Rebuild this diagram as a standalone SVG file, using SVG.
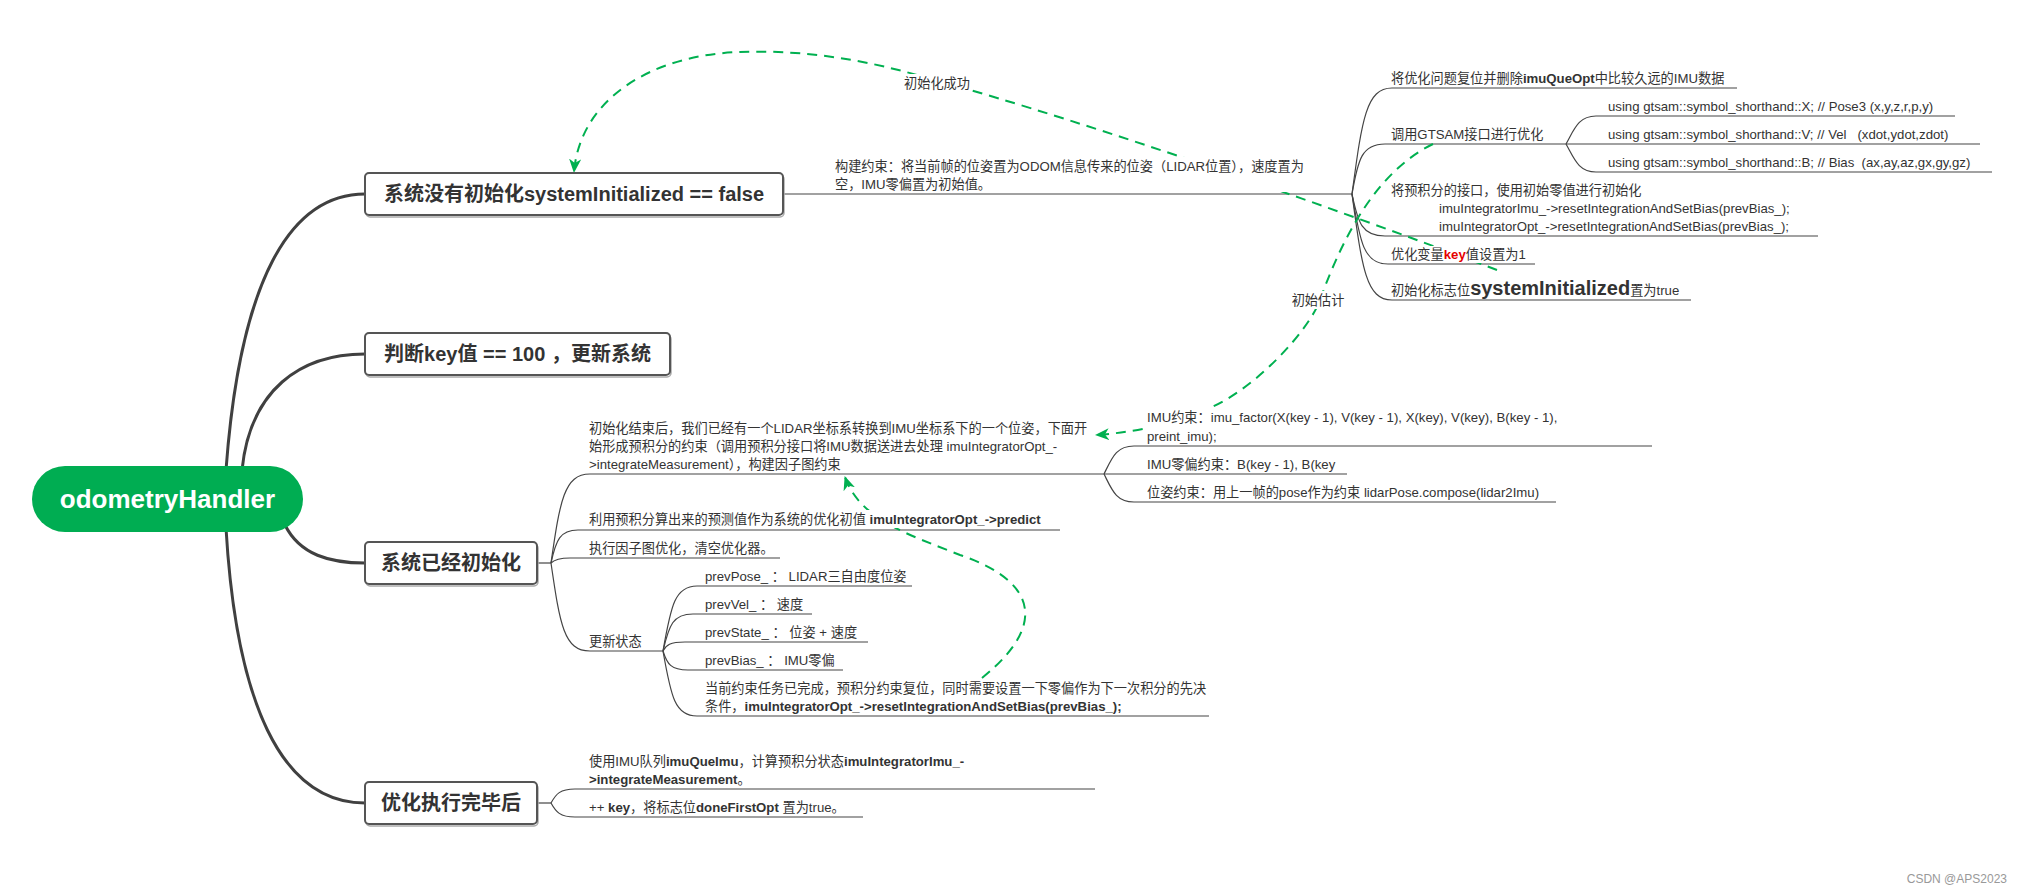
<svg xmlns="http://www.w3.org/2000/svg" width="2022" height="893" viewBox="0 0 2022 893">
<style>
text{font-family:"Liberation Sans","Noto Sans CJK SC",sans-serif;fill:#333;white-space:pre}
.t{font-size:13.2px}
.b{font-weight:bold}
.h{font-size:20px;font-weight:bold;fill:#333}
.ln{fill:none;stroke:#444;stroke-width:1.2}
.main{fill:none;stroke:#404040;stroke-width:3}
.dash{fill:none;stroke:#00b050;stroke-width:2;stroke-dasharray:10 7}
.box{fill:#fff;stroke:#555;stroke-width:2}
.sh{fill:none;stroke:#aaa;stroke-width:1.5}
.bg{fill:#fff}
</style>
<defs>
<marker id="ah" viewBox="0 0 14 12" refX="13" refY="6" markerWidth="14" markerHeight="12" markerUnits="userSpaceOnUse" orient="auto"><path d="M0,0 L14,6 L0,12 L4,6 z" fill="#00b050"/></marker>
</defs>
<rect width="2022" height="893" fill="#fff"/>
<g id="connectors">
<path class="main" d="M226,470 C240,280 290,194 365,194"/>
<path class="main" d="M242,470 C250,390 300,354 365,354"/>
<path class="main" d="M285,525 C300,555 330,563 365,563"/>
<path class="main" d="M226,528 C236,700 280,803 365,803"/>
<path class="ln" d="M783,194 L1352,194"/>
<path class="ln" d="M1352,194 C1362,120 1366,88 1392,88 L1737,88"/>
<path class="ln" d="M1352,194 C1358,159 1362,144 1385,144 L1566,144"/>
<path class="ln" d="M1352,194 C1358,223 1362,236 1385,236 L1818,236"/>
<path class="ln" d="M1352,194 C1360,243 1364,264 1388,264 L1535,264"/>
<path class="ln" d="M1352,194 C1362,268 1366,300 1392,300 L1691,300"/>
<path class="ln" d="M1566,144 C1574,130 1578,116 1596,116 L1955,116"/>
<path class="ln" d="M1566,144 L1980,144"/>
<path class="ln" d="M1566,144 C1574,158 1578,172 1596,172 L1992,172"/>
<path class="ln" d="M537,563 L551,563"/>
<path class="ln" d="M551,563 C560,501 564,474 590,474 L1104,474"/>
<path class="ln" d="M551,563 C556,540 560,530 578,530 L1060,530"/>
<path class="ln" d="M551,563 C554,560 558,558 570,558 L780,558"/>
<path class="ln" d="M551,563 C560,625 564,651 590,651 L663,651"/>
<path class="ln" d="M1104,474 C1112,458 1116,446 1134,446 L1652,446"/>
<path class="ln" d="M1104,474 L1347,474"/>
<path class="ln" d="M1104,474 C1112,490 1116,502 1134,502 L1556,502"/>
<path class="ln" d="M663,651 C671,605 675,586 697,586 L912,586"/>
<path class="ln" d="M663,651 C669,625 673,614 693,614 L812,614"/>
<path class="ln" d="M663,651 C666,645 670,642 685,642 L868,642"/>
<path class="ln" d="M663,651 C667,664 671,670 688,670 L843,670"/>
<path class="ln" d="M663,651 C671,697 675,716 697,716 L1209,716"/>
<path class="ln" d="M537,803 L551,803"/>
<path class="ln" d="M551,803 C556,794 560,789 575,789 L1095,789"/>
<path class="ln" d="M551,803 C556,812 560,817 575,817 L863,817"/>
<path class="dash" marker-end="url(#ah)" d="M1497,270 C1300,195 1050,110 906,72 C846,56 790,50 740,52 C650,55 580,100 574,172"/>
<path class="dash" marker-end="url(#ah)" d="M1433,144 C1380,170 1345,230 1320,300 C1310,328 1260,385 1212,407 C1180,422 1140,432 1096,435"/>
<path class="dash" marker-end="url(#ah)" d="M982,678 C1060,615 1020,575 960,555 C910,535 860,520 845,477"/>
<g id="label-success"><rect class="bg" x="903" y="74" width="68" height="18"/><text class="t" x="937" y="88" text-anchor="middle">初始化成功</text></g>
<g id="label-estimate"><rect class="bg" x="1290" y="291" width="56" height="18"/><text class="t" x="1318" y="305" text-anchor="middle">初始估计</text></g>
</g>
<g id="root">
<rect x="32" y="466" width="271" height="66" rx="33" fill="#00ad52"/>
<text x="167.5" y="508" text-anchor="middle" style="font-size:26px;font-weight:bold;fill:#fff">odometryHandler</text>
</g>
<g id="n-uninit">
<rect class="sh" x="366" y="175" width="418" height="42" rx="4"/>
<rect class="box" x="365" y="173" width="418" height="42" rx="4"/>
<text class="h" x="574" y="201" text-anchor="middle">系统没有初始化systemInitialized == false</text>
</g>
<g id="n-key100">
<rect class="sh" x="366" y="335" width="305" height="42" rx="4"/>
<rect class="box" x="365" y="333" width="305" height="42" rx="4"/>
<text class="h" x="517.5" y="361" text-anchor="middle">判断key值 == 100 ，更新系统</text>
</g>
<g id="n-init">
<rect class="sh" x="366" y="544" width="172" height="42" rx="4"/>
<rect class="box" x="365" y="542" width="172" height="42" rx="4"/>
<text class="h" x="451" y="570" text-anchor="middle">系统已经初始化</text>
</g>
<g id="n-after">
<rect class="sh" x="366" y="784" width="172" height="42" rx="4"/>
<rect class="box" x="365" y="782" width="172" height="42" rx="4"/>
<text class="h" x="451" y="810" text-anchor="middle">优化执行完毕后</text>
</g>
<g id="n-build">
<rect class="bg" x="833" y="157" width="475" height="35"/>
<text class="t" x="835" y="171">构建约束：将当前帧的位姿置为ODOM信息传来的位姿（LIDAR位置），速度置为</text>
<text class="t" x="835" y="189">空，IMU零偏置为初始值。</text>
</g>
<g id="n-reset"><text class="t" x="1391" y="83">将优化问题复位并删除<tspan class="b">imuQueOpt</tspan>中比较久远的IMU数据</text></g>
<g id="n-gtsam"><text class="t" x="1391" y="139">调用GTSAM接口进行优化</text></g>
<g id="n-symx"><text class="t" x="1608" y="111">using gtsam::symbol_shorthand::X; // Pose3 (x,y,z,r,p,y)</text></g>
<g id="n-symv"><text class="t" x="1608" y="139">using gtsam::symbol_shorthand::V; // Vel   (xdot,ydot,zdot)</text></g>
<g id="n-symb"><text class="t" x="1608" y="167">using gtsam::symbol_shorthand::B; // Bias  (ax,ay,az,gx,gy,gz)</text></g>
<g id="n-preint">
<text class="t" x="1391" y="195">将预积分的接口，使用初始零值进行初始化</text>
<text class="t" x="1439" y="213">imuIntegratorImu_-&gt;resetIntegrationAndSetBias(prevBias_);</text>
<text class="t" x="1439" y="231">imuIntegratorOpt_-&gt;resetIntegrationAndSetBias(prevBias_);</text>
</g>
<g id="n-keyset"><rect class="bg" x="1389" y="246" width="146" height="17"/><text class="t" x="1391" y="259">优化变量<tspan class="b" style="fill:#e60000">key</tspan>值设置为1</text></g>
<g id="n-flag"><text class="t" x="1391" y="295">初始化标志位<tspan class="b" style="font-size:20px">systemInitialized</tspan>置为true</text></g>
<g id="n-after-init">
<rect class="bg" x="587" y="417" width="498" height="55"/>
<text class="t" x="589" y="433">初始化结束后，我们已经有一个LIDAR坐标系转换到IMU坐标系下的一个位姿，下面开</text>
<text class="t" x="589" y="451">始形成预积分的约束（调用预积分接口将IMU数据送进去处理 imuIntegratorOpt_-</text>
<text class="t" x="589" y="469">&gt;integrateMeasurement），构建因子图约束</text>
</g>
<g id="n-imu">
<rect class="bg" x="1145" y="408" width="420" height="36"/>
<text class="t" x="1147" y="422">IMU约束：imu_factor(X(key - 1), V(key - 1), X(key), V(key), B(key - 1),</text>
<text class="t" x="1147" y="441">preint_imu);</text>
</g>
<g id="n-imubias"><text class="t" x="1147" y="469">IMU零偏约束：B(key - 1), B(key</text></g>
<g id="n-pose"><text class="t" x="1147" y="497">位姿约束：用上一帧的pose作为约束 lidarPose.compose(lidar2Imu)</text></g>
<g id="n-predict"><rect class="bg" x="587" y="510" width="470" height="18"/><text class="t" x="589" y="524">利用预积分算出来的预测值作为系统的优化初值 <tspan class="b">imuIntegratorOpt_-&gt;predict</tspan></text></g>
<g id="n-optimize"><text class="t" x="589" y="553">执行因子图优化，清空优化器。</text></g>
<g id="n-update"><text class="t" x="589" y="646">更新状态</text></g>
<g id="n-prevpose"><text class="t" x="705" y="581">prevPose_ ： LIDAR三自由度位姿</text></g>
<g id="n-prevvel"><text class="t" x="705" y="609">prevVel_ ： 速度</text></g>
<g id="n-prevstate"><text class="t" x="705" y="637">prevState_ ： 位姿 + 速度</text></g>
<g id="n-prevbias"><text class="t" x="705" y="665">prevBias_ ： IMU零偏</text></g>
<g id="n-resetbias">
<rect class="bg" x="703" y="679" width="500" height="35"/>
<text class="t" x="705" y="693">当前约束任务已完成，预积分约束复位，同时需要设置一下零偏作为下一次积分的先决</text>
<text class="t" x="705" y="711">条件，<tspan class="b">imuIntegratorOpt_-&gt;resetIntegrationAndSetBias(prevBias_);</tspan></text>
</g>
<g id="n-integrate">
<text class="t" x="589" y="766">使用IMU队列<tspan class="b">imuQueImu</tspan>，计算预积分状态<tspan class="b">imuIntegratorImu_-</tspan></text>
<text class="t" x="589" y="784"><tspan class="b">&gt;integrateMeasurement</tspan>。</text>
</g>
<g id="n-pluskey"><text class="t" x="589" y="812">++ <tspan class="b">key</tspan>，将标志位<tspan class="b">doneFirstOpt</tspan> 置为true。</text></g>
<text x="2007" y="883" text-anchor="end" style="font-size:12px;fill:#999">CSDN @APS2023</text>
</svg>
